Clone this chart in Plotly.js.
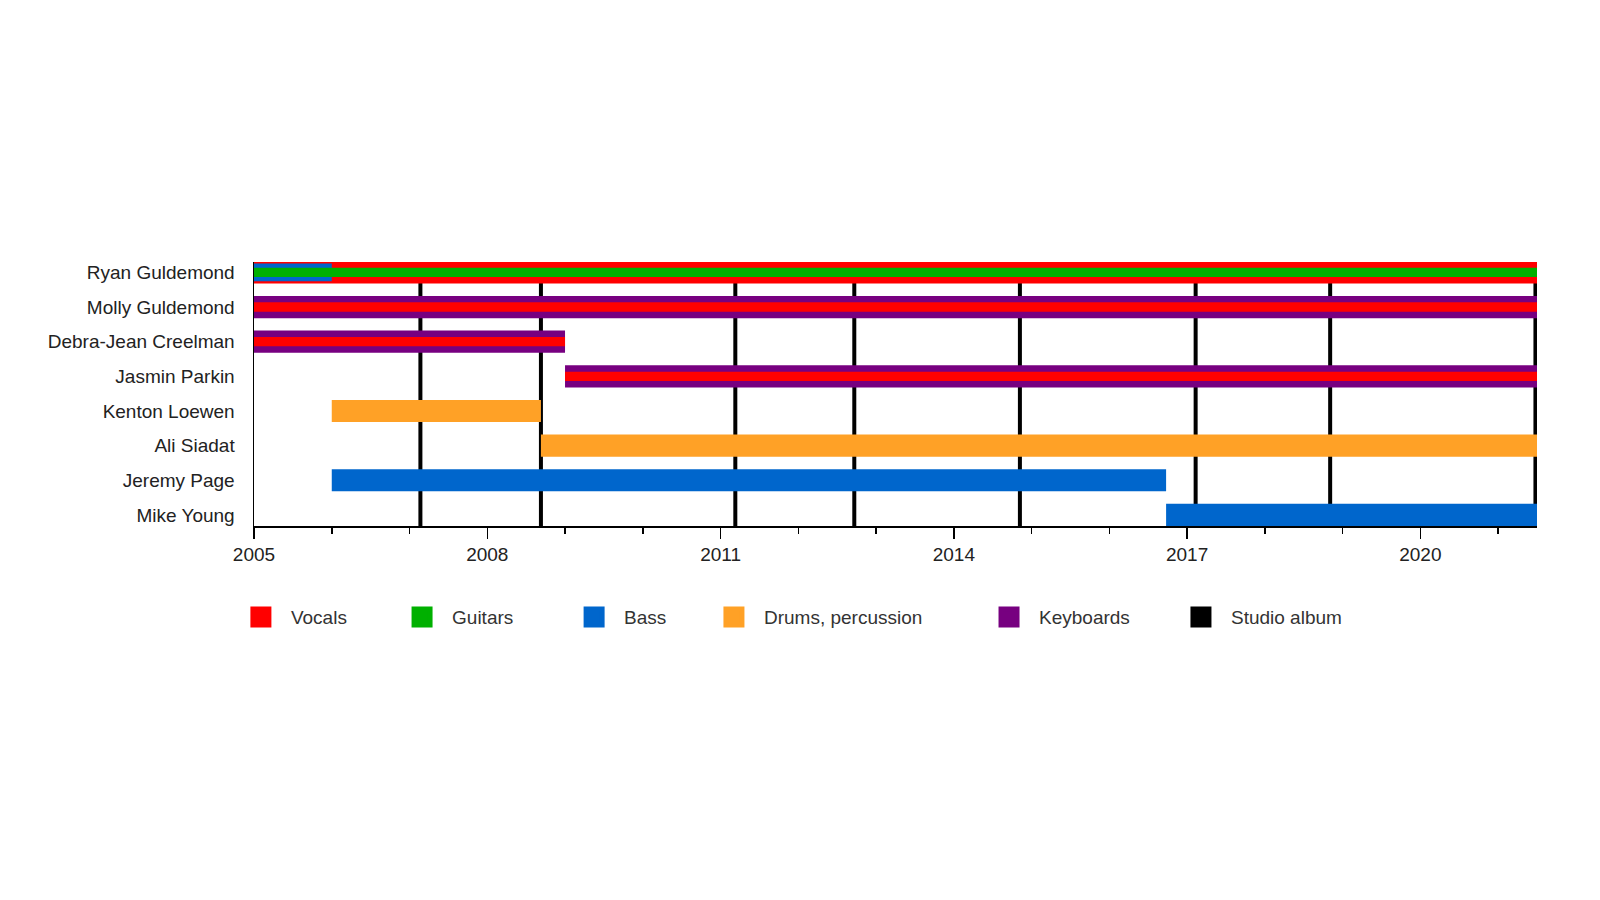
<!DOCTYPE html>
<html>
<head>
<meta charset="utf-8">
<script src="https://cdn.plot.ly/plotly-3.0.1.min.js"></script>
<style>
  html, body { margin: 0; padding: 0; background: #fff; }
  #plot { width: 1600px; height: 900px; }
</style>
</head>
<body>
<div id="plot"></div>
<script>
// band members, top to bottom
const members = ['Ryan Guldemond', 'Molly Guldemond', 'Debra-Jean Creelman', 'Jasmin Parkin',
                 'Kenton Loewen', 'Ali Siadat', 'Jeremy Page', 'Mike Young'];

// periods per role (decimal years)
const keysWho = ['Molly Guldemond', 'Debra-Jean Creelman', 'Jasmin Parkin'];
const keysStart = [2005, 2005, 2009.0];
const keysEnd = [2021.5, 2009.0, 2021.5];

const vocalsWho = ['Ryan Guldemond', 'Molly Guldemond', 'Debra-Jean Creelman', 'Jasmin Parkin'];
const vocalsStart = [2005, 2005, 2005, 2009.0];
const vocalsEnd = [2021.5, 2021.5, 2009.0, 2021.5];

const bassWho = ['Ryan Guldemond', 'Jeremy Page', 'Mike Young'];
const bassStart = [2005, 2006, 2016.73];
const bassEnd = [2006, 2016.73, 2021.5];

const guitarsWho = ['Ryan Guldemond'];
const guitarsStart = [2005];
const guitarsEnd = [2021.5];

const drumsWho = ['Kenton Loewen', 'Ali Siadat'];
const drumsStart = [2006, 2008.69];
const drumsEnd = [2008.69, 2021.5];

// studio album releases
const albumDates = [2007.14, 2008.69, 2011.19, 2012.72, 2014.85, 2017.11, 2018.84, 2021.48];

const legendNames = ['Vocals', 'Guitars', 'Bass', 'Drums, percussion', 'Keyboards', 'Studio album'];

const colors = {
  'Vocals': '#ff0000',
  'Guitars': '#00b000',
  'Bass': '#0066cc',
  'Drums, percussion': '#ffa126',
  'Keyboards': '#770080',
  'Studio album': '#000000'
};

const FULL = 0.64, MID = 0.51, STRIPE = 0.27;

const barTrace = (role, who, start, end, widths) => ({
  type: 'bar',
  orientation: 'h',
  y: who,
  base: start,
  x: end.map((e, i) => e - start[i]),
  width: widths,
  marker: { color: colors[role], line: { width: 0 } },
  showlegend: false,
  hoverinfo: 'skip'
});

const data = [
  barTrace('Keyboards', keysWho, keysStart, keysEnd, keysWho.map(() => FULL)),
  barTrace('Vocals', vocalsWho, vocalsStart, vocalsEnd,
           vocalsWho.map(n => keysWho.includes(n) ? STRIPE : FULL)),
  barTrace('Bass', bassWho, bassStart, bassEnd,
           bassWho.map(n => n === 'Ryan Guldemond' ? MID : FULL)),
  barTrace('Guitars', guitarsWho, guitarsStart, guitarsEnd, guitarsWho.map(() => STRIPE)),
  barTrace('Drums, percussion', drumsWho, drumsStart, drumsEnd, drumsWho.map(() => FULL))
];

// legend-only entries, each in its own legend box so they can be spaced like the original
const legendX = [-0.018, 0.1076, 0.2417, 0.3507, 0.5651, 0.7147];
legendNames.forEach((name, i) => {
  data.push({
    type: 'scatter',
    mode: 'markers',
    x: [null],
    y: [null],
    name: name,
    legend: i === 0 ? 'legend' : 'legend' + (i + 1),
    marker: { symbol: 'square', size: 16, color: colors[name], line: { color: colors[name], width: 5 } },
    hoverinfo: 'skip'
  });
});

const font = 'Liberation Sans, Arial, sans-serif';

const layout = {
  width: 1600,
  height: 900,
  margin: { l: 254, r: 63, t: 262, b: 374 },
  paper_bgcolor: '#fff',
  plot_bgcolor: '#fff',
  barmode: 'overlay',
  font: { family: font, size: 19, color: '#222' },
  showlegend: true,
  xaxis: {
    range: [2005, 2021.5],
    tick0: 2005,
    dtick: 3,
    ticks: 'outside',
    ticklen: 11,
    tickwidth: 1.5,
    tickcolor: '#000',
    showline: true,
    linecolor: '#000',
    linewidth: 1.5,
    showgrid: false,
    zeroline: false,
    tickfont: { family: font, size: 19, color: '#222' },
    minor: { tick0: 2005, dtick: 1, ticks: 'outside', ticklen: 6, tickwidth: 1.5, tickcolor: '#000', showgrid: false }
  },
  yaxis: {
    type: 'category',
    categoryorder: 'array',
    categoryarray: members,
    range: [7.32, -0.3],
    showline: true,
    linecolor: '#000',
    linewidth: 1.5,
    ticks: '',
    showgrid: false,
    zeroline: false,
    ticklabelstandoff: 14,
    tickfont: { family: font, size: 19, color: '#222' }
  },
  shapes: albumDates.map(d => ({
    type: 'line',
    xref: 'x',
    yref: 'paper',
    x0: d, x1: d,
    y0: 0, y1: 1,
    line: { color: '#000', width: 4 },
    layer: 'below'
  }))
};

legendX.forEach((lx, i) => {
  layout[i === 0 ? 'legend' : 'legend' + (i + 1)] = {
    orientation: 'h',
    x: lx,
    xanchor: 'left',
    y: -0.345,
    yanchor: 'middle',
    itemwidth: 50,
    bgcolor: 'rgba(0,0,0,0)',
    font: { family: font, size: 19, color: '#333' }
  };
});

Plotly.newPlot('plot', data, layout, { displayModeBar: false, staticPlot: true });
</script>
</body>
</html>
